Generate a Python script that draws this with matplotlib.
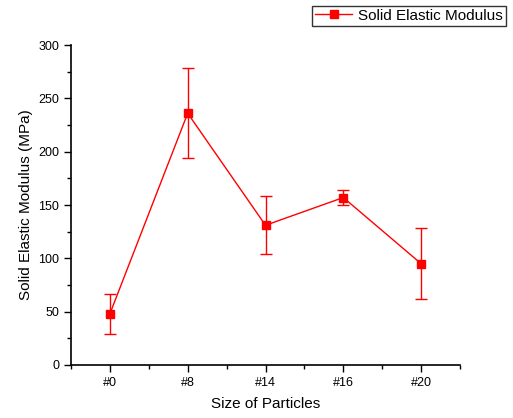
import matplotlib
matplotlib.use("Agg")
import matplotlib.pyplot as plt
from matplotlib.ticker import MultipleLocator, FixedLocator
from matplotlib.lines import Line2D

plt.rcParams['font.family'] = ['Liberation Sans', 'DejaVu Sans']

categories = ["#0", "#8", "#14", "#16", "#20"]
modulus = [48, 236, 131, 157, 95]
modulus_err = [19, 42, 27, 7, 33]

fig = plt.figure(figsize=(5.13, 4.18), dpi=100)
ax = fig.add_axes([0.1384, 0.1268, 0.7583, 0.7655])

x = list(range(1, len(categories) + 1))
ax.errorbar(x, modulus, yerr=modulus_err, color='#ff0000', lw=1.0,
            marker='s', markersize=6, capsize=4, capthick=1.0,
            elinewidth=1.0)

ax.set_xlim(0.5, 5.5)
ax.set_ylim(0, 300)
ax.set_xticks(x)
ax.set_xticklabels(categories)
ax.xaxis.set_minor_locator(FixedLocator([0.5, 1.5, 2.5, 3.5, 4.5, 5.5]))
ax.yaxis.set_major_locator(MultipleLocator(50))
ax.yaxis.set_minor_locator(MultipleLocator(25))

for side in ('top', 'right'):
    ax.spines[side].set_visible(False)
for side in ('left', 'bottom'):
    ax.spines[side].set_linewidth(1.2)

ax.tick_params(axis='both', which='major', direction='out', length=5, width=1.0, labelsize=9)
ax.tick_params(axis='both', which='minor', direction='out', length=3, width=1.0)

ax.set_xlabel('Size of Particles', fontsize=11, labelpad=6)
ax.set_ylabel('Solid Elastic Modulus (MPa)', fontsize=11, labelpad=4)

handle = Line2D([], [], color='#ff0000', lw=1.0, marker='s', markersize=6)
leg = fig.legend([handle], ['Solid Elastic Modulus'], loc='upper right',
                 bbox_to_anchor=(0.992, 0.994), fontsize=11,
                 frameon=True, fancybox=False, edgecolor='black',
                 handlelength=2.4, borderpad=0.2, handletextpad=0.4,
                 borderaxespad=0.2)
leg.get_frame().set_linewidth(1.0)

fig.savefig('out.png', dpi=100)
